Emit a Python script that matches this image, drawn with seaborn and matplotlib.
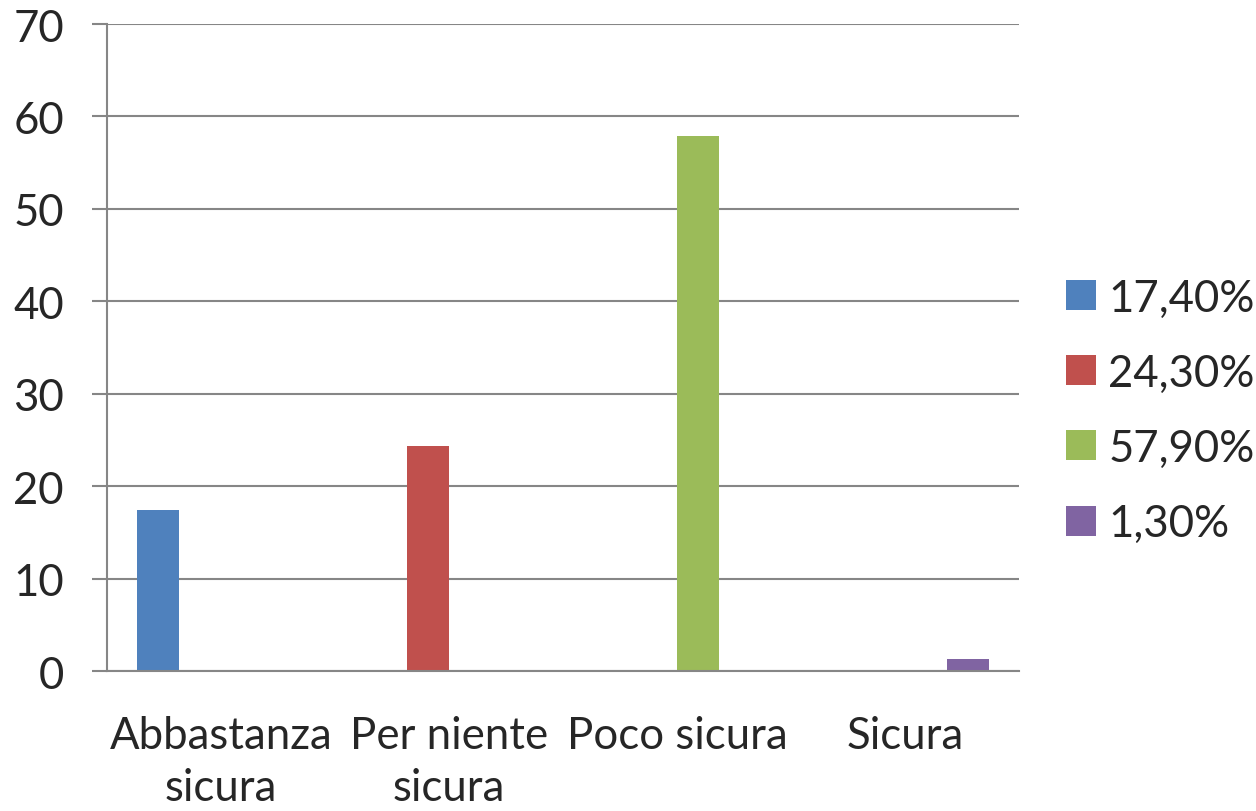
import pandas as pd
import seaborn as sns
import matplotlib.pyplot as plt

# Dati
categorie = ['Abbastanza\nsicura', 'Per niente\nsicura', 'Poco sicura', 'Sicura']
serie = ['17,40%', '24,30%', '57,90%', '1,30%']
valori = [17.4, 24.3, 57.9, 1.3]
colori = ['#4F81BD', '#C0504D', '#9BBB59', '#8064A2']

df = pd.DataFrame({'categoria': categorie, 'serie': serie, 'valore': valori})

sns.set_theme(style='white')
plt.rcParams['font.family'] = ['Lato', 'DejaVu Sans']

fig = plt.figure(figsize=(12.56, 8.12), dpi=100)
ax = fig.add_axes([0.0852, 0.1724, 0.7261, 0.7968])

sns.barplot(data=df, x='categoria', y='valore', hue='serie',
            order=categorie, hue_order=serie, palette=colori,
            dodge=True, width=0.735, gap=0, saturation=1,
            linewidth=0, ax=ax)

ax.set_ylim(0, 70)
ax.set_yticks(range(0, 71, 10))
ax.set_xlim(-0.5, 3.5)
ax.set_xlabel('')
ax.set_ylabel('')
ax.grid(axis='y', color='#868686', linewidth=1.5)
ax.set_axisbelow(True)

for s in ['top', 'right']:
    ax.spines[s].set_visible(False)
for s in ['left', 'bottom']:
    ax.spines[s].set_color('#868686')
    ax.spines[s].set_linewidth(1.5)

# tick della categoria ai bordi dei gruppi
ax.set_xticks([0, 1, 2, 3])
ax.set_xticklabels(categorie, fontsize=31.5, linespacing=1.32)
ax.set_xticks([-0.5, 0.5, 1.5, 2.5, 3.5], minor=True)
ax.tick_params(axis='x', which='major', length=0, pad=32)
ax.tick_params(axis='x', which='minor', length=10, width=1.5,
               color='#868686', direction='out')
ax.tick_params(axis='y', length=11, width=1.5, color='#868686',
               labelsize=31.5, pad=20, left=True)

ax.legend(loc='center left', bbox_to_anchor=(0.849, 0.493),
          bbox_transform=fig.transFigure, frameon=False,
          fontsize=31.5, handlelength=0.68, handleheight=0.68,
          handletextpad=0.28, labelspacing=0.78, borderaxespad=0,
          borderpad=0)

fig.savefig('out.png', dpi=100)
